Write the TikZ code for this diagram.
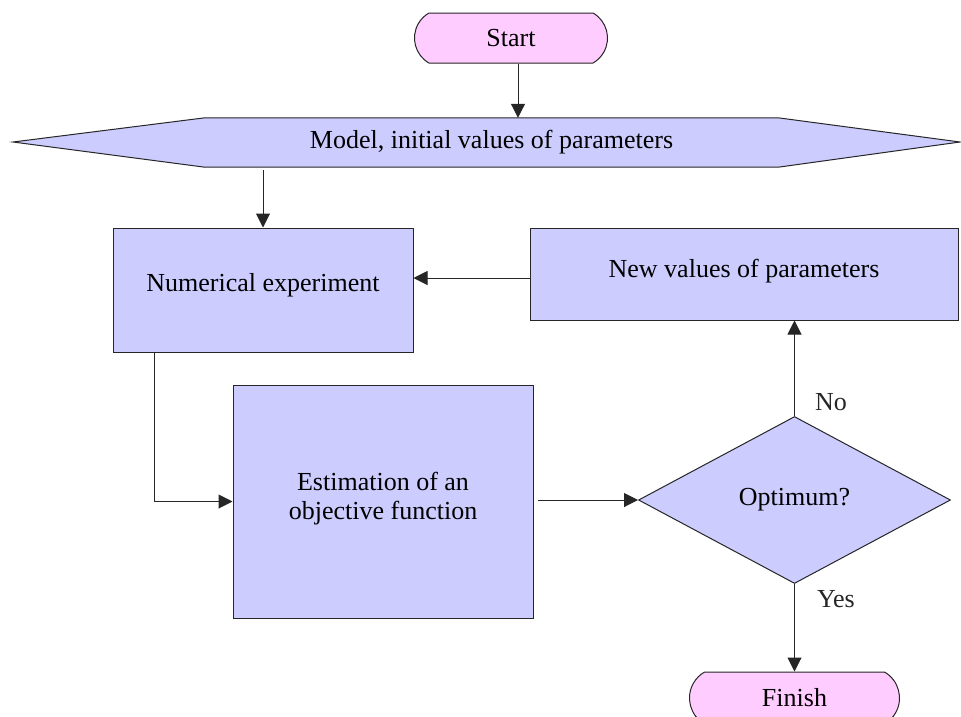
\documentclass[tikz,border=0pt]{standalone}
\usepackage{fontspec}
\setmainfont{Liberation Serif}
\usepackage{tikz}
\usetikzlibrary{shapes.geometric,shapes.misc,arrows.meta,backgrounds}
\definecolor{boxblue}{HTML}{CCCCFF}
\definecolor{termpink}{HTML}{FFCCFF}

\begin{document}
\begin{tikzpicture}[
	x=1pt, y=-1pt,
	font=\fontsize{26pt}{29pt}\selectfont,
	>={Triangle[length=14pt,width=14pt]},
	blk/.style={rectangle, draw=black!85, fill=boxblue, line width=1pt, inner sep=0pt, align=center},
	term/.style={rounded rectangle, rounded rectangle arc length=120, draw=black!85, fill=termpink, line width=1pt, inner sep=0pt},
	dec/.style={diamond, aspect=1.87, draw=black!85, fill=boxblue, line width=1pt, inner sep=0pt},
	seta/.style={->, line width=1pt, black!85},
	lbl/.style={inner sep=0pt},
]
\useasboundingbox (0,0) rectangle (961,716);
% Blocos
\node[term, minimum width=193pt, minimum height=50pt] (start) at (511,38) {Start};
\node[minimum width=573pt, minimum height=49pt, inner sep=0pt] (model) at (491.5,142.5) {Model, initial values of parameters};
\node[blk, minimum width=300pt, minimum height=124pt, text depth=16pt] (numexp) at (263,290) {Numerical experiment};
\node[blk, minimum width=428pt, minimum height=92pt, text depth=12pt] (newval) at (744,274) {New values of parameters};
\node[blk, minimum width=300pt, minimum height=233pt, text depth=12pt] (estim) at (383,501.5) {Estimation of an\\objective function};
\node[dec, minimum width=312pt, minimum height=167pt] (opt) at (794.5,500) {Optimum?};
\node[term, minimum width=210pt, minimum height=52pt] (finish) at (794.5,698) {Finish};
% Hexagono de entrada
\begin{scope}[on background layer]
\filldraw[fill=boxblue, draw=black!85, line width=1pt] (model.north west) -- (model.north east) -- (960,142) -- (model.south east) -- (model.south west) -- (13,142) -- cycle;
\end{scope}
% Setas
\draw[seta] ([xshift=7pt]start.south) -- ([xshift=7pt]start.south |- model.north);
\draw[seta] ([yshift=-3pt]numexp.north |- model.south) -- (numexp.north);
\draw[seta] ([yshift=-4pt]newval.west) -- ([yshift=-4pt]numexp.east |- newval.west);
\draw[seta] ([xshift=42pt]numexp.south west) |- (estim.west);
\draw[seta] ([xshift=4pt]estim.east |- opt.west) -- (opt.west);
\draw[seta] (opt.north) -- node[lbl, pos=0.15, right=20pt] {No} (opt.north |- newval.south);
\draw[seta] (opt.south) -- node[lbl, pos=0.17, right=22pt] {Yes} (finish.north);
\end{tikzpicture}
\end{document}
